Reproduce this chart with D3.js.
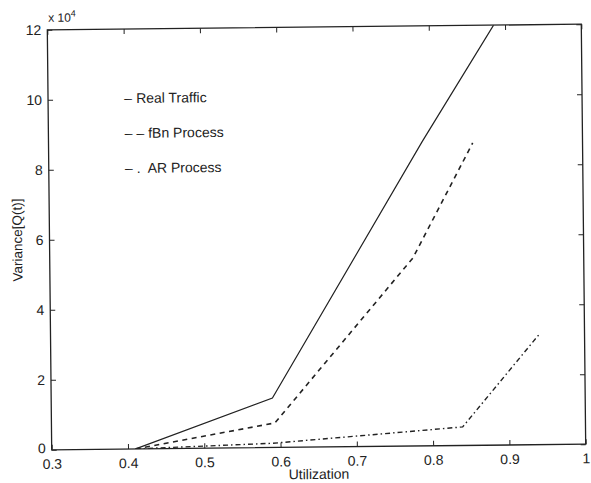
<!DOCTYPE html>
<html><head><meta charset="utf-8">
<script src="https://cdn.jsdelivr.net/npm/d3@7"></script>
<style>
body{margin:0;background:#fff;}
svg{display:block;font-family:"Liberation Sans",Arial,sans-serif;}
</style></head>
<body>
<svg id="c" width="591" height="483"></svg>
<script>
const xTicks = [0.3,0.4,0.5,0.6,0.7,0.8,0.9,1];
const xTickLabels = ["0.3","0.4","0.5","0.6","0.7","0.8","0.9","1"];
const yTicks = [0,2,4,6,8,10,12];
const yTickLabels = ["0","2","4","6","8","10","12"];
const seriesNames = ["Real Traffic","fBn Process","AR Process"];
const legendMarks = ["\u2013","\u2013 \u2013","\u2013 ."];
const realX = [0.41,0.59,0.79,0.885];
const realY = [0,1.41,8.7,12];
const fbnX = [0.41,0.593,0.776,0.856];
const fbnY = [0,0.70,5.37,8.64];
const arX = [0.41,0.59,0.839,0.942];
const arY = [0,0.12,0.53,3.19];

const L=49.5, R=583.5, T=27, B=447;
const svg = d3.select("#c");
const g = svg.append("g").attr("transform","rotate(-0.6,316.5,237)");
const x = d3.scaleLinear().domain([0.3,1]).range([L,R]);
const y = d3.scaleLinear().domain([0,12]).range([B,T]);
const ink = "#222";

g.append("defs").append("clipPath").attr("id","clip")
 .append("rect").attr("x",L).attr("y",T).attr("width",R-L).attr("height",B-T);

// axes
const ax = g.append("g").attr("transform",`translate(0,${B})`)
  .call(d3.axisBottom(x).tickValues(xTicks).tickFormat((d,i)=>xTickLabels[i]).tickSizeInner(-5).tickSizeOuter(0).tickPadding(9));
const axT = g.append("g").attr("transform",`translate(0,${T})`)
  .call(d3.axisTop(x).tickValues(xTicks).tickFormat("").tickSizeInner(-5).tickSizeOuter(0));
const ay = g.append("g").attr("transform",`translate(${L},0)`)
  .call(d3.axisLeft(y).tickValues(yTicks).tickFormat((d,i)=>yTickLabels[i]).tickSizeInner(-5).tickSizeOuter(0).tickPadding(6));
const ayR = g.append("g").attr("transform",`translate(${R},0)`)
  .call(d3.axisRight(y).tickValues(yTicks).tickFormat("").tickSizeInner(-5).tickSizeOuter(0));
[ax,axT,ay,ayR].forEach(a=>{
  a.selectAll("path").remove();
  a.selectAll("line").attr("stroke",ink).attr("stroke-width",1);
  a.selectAll("text").attr("fill",ink).style("font-size","14px").style("font-family","'Liberation Sans',Arial,sans-serif");
});
ax.selectAll("text").attr("dy","0.72em");
ay.selectAll("text").attr("dy",d=>d===0?"0.2em":"0.32em");
g.append("rect").attr("x",L).attr("y",T).attr("width",R-L).attr("height",B-T)
 .attr("fill","none").attr("stroke",ink).attr("stroke-width",1.3);

// exponent
const ex = g.append("text").attr("x",L+1).attr("y",T-8).attr("fill",ink).style("font-size","12px");
ex.append("tspan").text("x 10");
ex.append("tspan").attr("dy",-5).style("font-size","9px").text("4");

// labels
g.append("text").attr("x",(L+R)/2).attr("y",B+32).attr("text-anchor","middle")
 .attr("fill",ink).style("font-size","14px").text("Utilization");
g.append("text").attr("transform",`translate(22,${(T+B)/2}) rotate(-90)`).attr("text-anchor","middle")
 .attr("fill",ink).style("font-size","13.5px").text("Variance[Q(t)]");

// lines
const line = d3.line().x(d=>x(d[0])).y(d=>y(d[1]));
const series = [
  {xs:realX, ys:realY, dash:null, w:1.2},
  {xs:fbnX, ys:fbnY, dash:"5,4.5", w:1.6},
  {xs:arX, ys:arY, dash:"5,3,1.5,3", w:1.4}
];
const lg = g.append("g").attr("clip-path","url(#clip)");
series.forEach(s=>{
  lg.append("path").datum(s.xs.map((v,i)=>[v,s.ys[i]]))
    .attr("d",line).attr("fill","none").attr("stroke",ink)
    .attr("stroke-width",s.w).attr("stroke-dasharray",s.dash);
});

// legend (text-style, as in the original)
seriesNames.forEach((n,i)=>{
  const t = g.append("text").attr("x",x(0.4)).attr("y",y(10-i*1.0)+4).attr("fill",ink).style("font-size","14px");
  t.append("tspan").text(legendMarks[i]);
  t.append("tspan").attr("dx", i===2?7:4).text(n);
});
</script>
</body></html>
